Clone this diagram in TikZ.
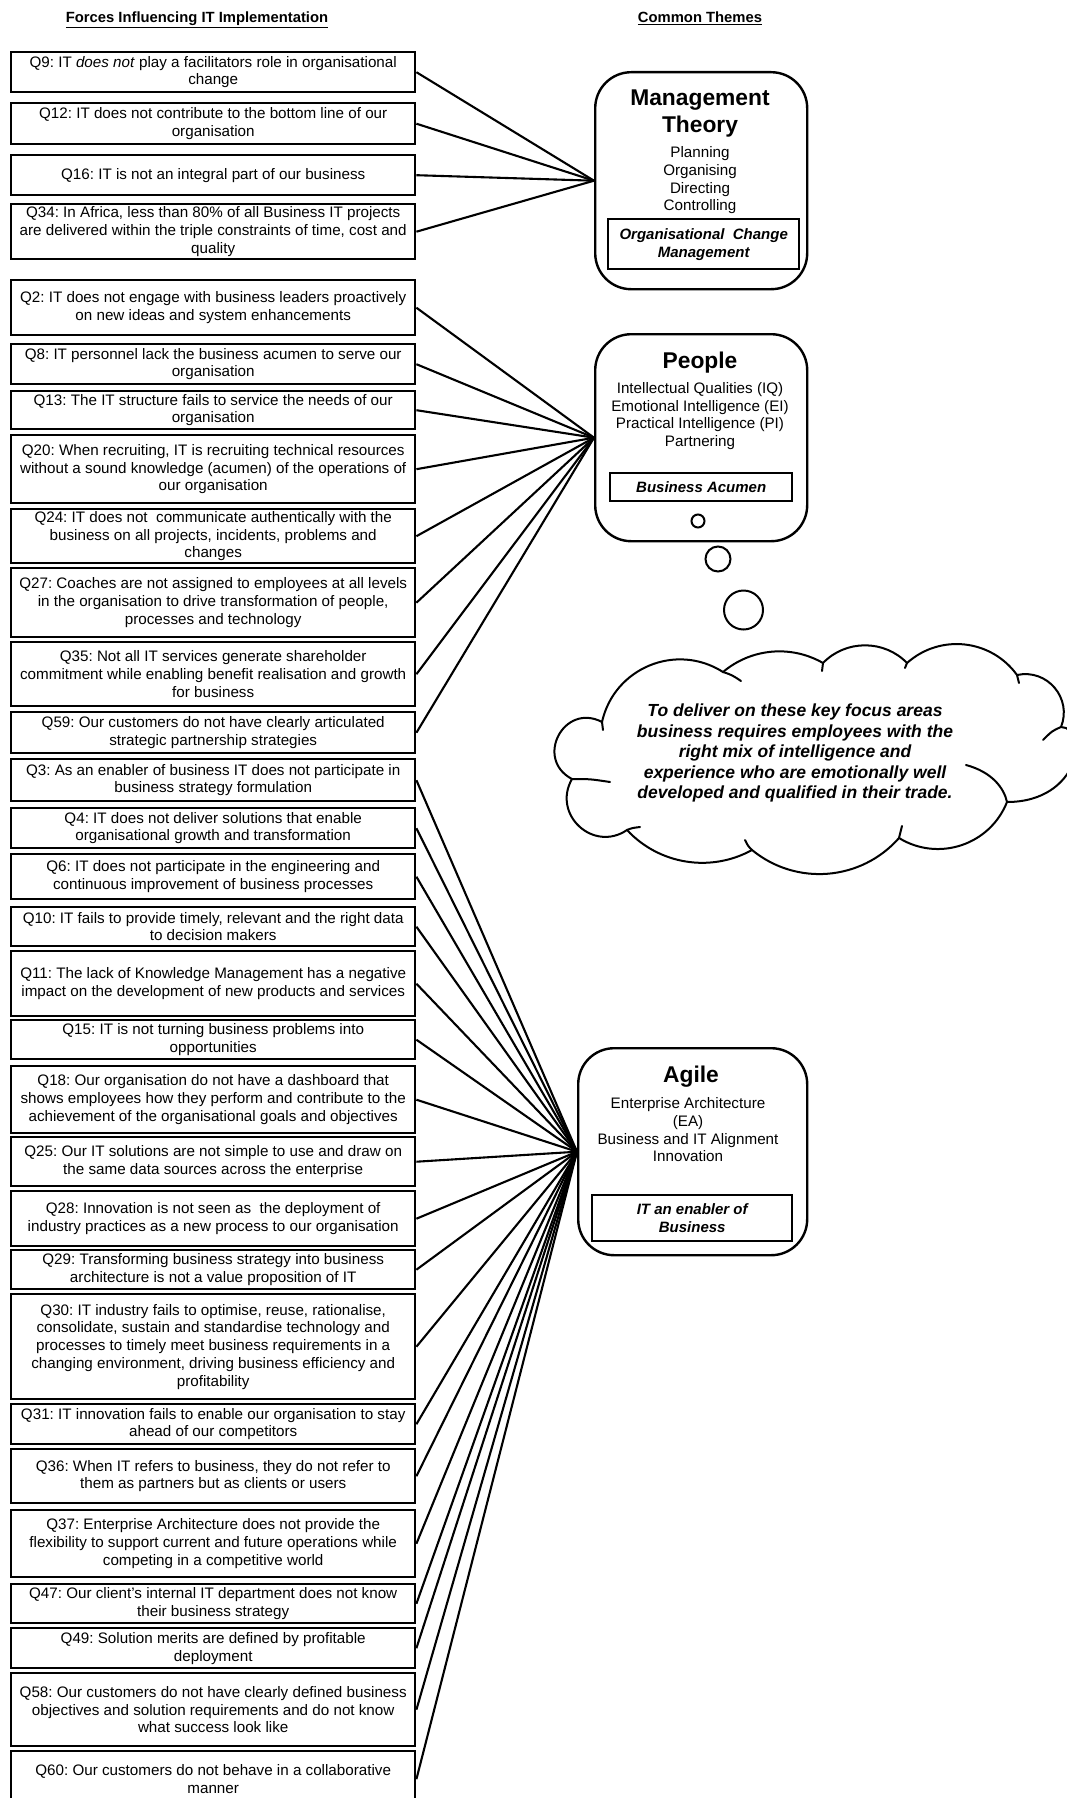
\documentclass[tikz,border=0pt]{standalone}
\usepackage{fontspec}
\setmainfont{Liberation Sans}
\usetikzlibrary{calc}
\frenchspacing
\newcommand{\qfont}{\fontsize{15.2}{17.7}\selectfont}
\newcommand{\ttlfont}{\fontsize{22.8}{27}\selectfont\bfseries}
\newcommand{\hdfont}{\fontsize{14.8}{17}\selectfont\bfseries}
\newcommand{\cldfont}{\fontsize{17.5}{20.5}\selectfont\bfseries\itshape}
\newcommand{\keyfont}{\fontsize{15}{18}\selectfont\bfseries\itshape}
\begin{document}
\begin{tikzpicture}[x=1pt,y=-1pt,
  qbox/.style={draw, line width=2.4pt, minimum width=404pt, anchor=north west, align=center, font=\qfont, inner sep=1pt},
  link/.style={line width=2.1pt},
  theme/.style={draw, line width=2.4pt, rounded corners=36pt, anchor=north west},
  keybox/.style={draw, line width=2.4pt, anchor=north west, align=center, font=\keyfont, inner sep=0pt},
  ttl/.style={font=\ttlfont, align=center},
  items/.style={font=\qfont, align=center},
  hdr/.style={font=\hdfont, anchor=base},
  bubble/.style={draw, circle, line width=2pt, inner sep=0pt},
  cloudline/.style={line width=2pt, line cap=round}
]
\useasboundingbox (0,0) rectangle (1067,1798);
\clip (0,0) rectangle (1067,1798);

% column headings
\node[hdr] (hleft) at (197,23) {\underline{Forces Influencing IT Implementation}};
\node[hdr] (hright) at (700,23) {\underline{Common Themes}};

% forces (left column)
\node[qbox, minimum height=40pt] (q9) at (10,51) {Q9: IT \textit{does not} play a facilitators role in organisational\\change};
\node[qbox, minimum height=41pt] (q12) at (10,102) {Q12: IT does not contribute to the bottom line of our\\organisation};
\node[qbox, minimum height=40pt] (q16) at (10,154) {Q16: IT is not an integral part of our business};
\node[qbox, minimum height=55pt] (q34) at (10,203) {Q34: In Africa, less than 80\% of all Business IT projects\\are delivered within the triple constraints of time, cost and\\quality};
\node[qbox, minimum height=55pt] (q2) at (10,279) {Q2: IT does not engage with business leaders proactively\\on new ideas and system enhancements};
\node[qbox, minimum height=40pt] (q8) at (10,343) {Q8: IT personnel lack the business acumen to serve our\\organisation};
\node[qbox, minimum height=38pt] (q13) at (10,390) {Q13: The IT structure fails to service the needs of our\\organisation};
\node[qbox, minimum height=68pt] (q20) at (10,434) {Q20: When recruiting, IT is recruiting technical resources\\without a sound knowledge (acumen) of the operations of\\our organisation};
\node[qbox, minimum height=54pt] (q24) at (10,508) {Q24: IT does not\ \ communicate authentically with the\\business on all projects, incidents, problems and\\changes};
\node[qbox, minimum height=69pt] (q27) at (10,567) {Q27: Coaches are not assigned to employees at all levels\\in the organisation to drive transformation of people,\\processes and technology};
\node[qbox, minimum height=64pt] (q35) at (10,641) {Q35: Not all IT services generate shareholder\\commitment while enabling benefit realisation and growth\\for business};
\node[qbox, minimum height=41pt] (q59) at (10,711) {Q59: Our customers do not have clearly articulated\\strategic partnership strategies};
\node[qbox, minimum height=42pt] (q3) at (10,758) {Q3: As an enabler of business IT does not participate in\\business strategy formulation};
\node[qbox, minimum height=40pt] (q4) at (10,807) {Q4: IT does not deliver solutions that enable\\organisational growth and transformation};
\node[qbox, minimum height=45pt] (q6) at (10,853) {Q6: IT does not participate in the engineering and\\continuous improvement of business processes};
\node[qbox, minimum height=39pt] (q10) at (10,906) {Q10: IT fails to provide timely, relevant and the right data\\to decision makers};
\node[qbox, minimum height=65pt] (q11) at (10,950) {Q11: The lack of Knowledge Management has a negative\\impact on the development of new products and services};
\node[qbox, minimum height=39pt] (q15) at (10,1019) {Q15: IT is not turning business problems into\\opportunities};
\node[qbox, minimum height=67pt] (q18) at (10,1065) {Q18: Our organisation do not have a dashboard that\\shows employees how they perform and contribute to the\\achievement of the organisational goals and objectives};
\node[qbox, minimum height=49pt] (q25) at (10,1136) {Q25: Our IT solutions are not simple to use and draw on\\the same data sources across the enterprise};
\node[qbox, minimum height=55pt] (q28) at (10,1190) {Q28: Innovation is not seen as\ \ the deployment of\\industry practices as a new process to our organisation};
\node[qbox, minimum height=39pt] (q29) at (10,1249) {Q29: Transforming business strategy into business\\architecture is not a value proposition of IT};
\node[qbox, minimum height=105pt] (q30) at (10,1293) {Q30: IT industry fails to optimise, reuse, rationalise,\\consolidate, sustain and standardise technology and\\processes to timely meet business requirements in a\\changing environment, driving business efficiency and\\profitability};
\node[qbox, minimum height=40pt] (q31) at (10,1403) {Q31: IT innovation fails to enable our organisation to stay\\ahead of our competitors};
\node[qbox, minimum height=54pt] (q36) at (10,1448) {Q36: When IT refers to business, they do not refer to\\them as partners but as clients or users};
\node[qbox, minimum height=67pt] (q37) at (10,1509) {Q37: Enterprise Architecture does not provide the\\flexibility to support current and future operations while\\competing in a competitive world};
\node[qbox, minimum height=39pt] (q47) at (10,1583) {Q47: Our client’s internal IT department does not know\\their business strategy};
\node[qbox, minimum height=40pt] (q49) at (10,1627) {Q49: Solution merits are defined by profitable\\deployment};
\node[qbox, minimum height=73pt] (q58) at (10,1672) {Q58: Our customers do not have clearly defined business\\objectives and solution requirements and do not know\\what success look like};
\node[qbox, minimum height=56pt] (q60) at (10,1750) {Q60: Our customers do not behave in a collaborative\\manner};

% common themes (right column)
\node[theme, minimum width=212pt, minimum height=217pt] (mt) at (594,71) {};
\node[ttl] (mttl) at (700,113.5) {Management\\Theory};
\node[items] (mitems) at (700,180.5) {Planning\\Organising\\Directing\\Controlling};
\node[keybox, minimum width=191pt, minimum height=50pt] (mkey) at (607,218) {Organisational\ \ Change\\Management};

\node[theme, minimum width=212pt, minimum height=207pt] (ppl) at (594,333) {};
\node[ttl] (pttl) at (700,363) {People};
\node[items] (pitems) at (700,416) {Intellectual Qualities (IQ)\\Emotional Intelligence (EI)\\Practical Intelligence (PI)\\Partnering};
\node[keybox, minimum width=182pt, minimum height=28pt] (pkey) at (609,472) {Business Acumen};

\node[theme, minimum width=229pt, minimum height=207pt] (agl) at (577,1047) {};
\node[ttl] (attl) at (691,1077) {Agile};
\node[items] (aitems) at (688,1130) {Enterprise Architecture\\(EA)\\Business and IT Alignment\\Innovation};
\node[keybox, minimum width=200pt, minimum height=46pt] (akey) at (591,1194) {IT an enabler of\\Business};

% connectors
\foreach \q in {q9,q12,q16,q34}
  \draw[link] (\q.east) -- (mt.west);
\foreach \q in {q2,q8,q13,q20,q24,q27,q35,q59}
  \draw[link] (\q.east) -- (ppl.west);
\foreach \q in {q3,q4,q6,q10,q11,q15,q18,q25,q28,q29,q30,q31,q36,q37,q47,q49,q58,q60}
  \draw[link] (\q.east) -- (agl.west);

% thought bubbles
\node[bubble, minimum size=13pt] (b1) at (698,521) {};
\node[bubble, minimum size=25pt] (b2) at (718,559) {};
\node[bubble, minimum size=39pt] (b3) at (743.5,610) {};

% cloud outline
\coordinate (j1) at (602,722);
\coordinate (j2) at (723,672);
\coordinate (j3) at (823,663);
\coordinate (j4) at (907,663);
\coordinate (j5) at (1017,675);
\coordinate (j6) at (1061,727);
\coordinate (j7) at (1007,802);
\coordinate (j8) at (899,838);
\coordinate (j9) at (752,850);
\coordinate (j10) at (627,830);
\coordinate (j11) at (572,779);
\draw[cloudline] (j1)
 .. controls ($(j1)!0.424!55:(j2)$) and ($(j2)!0.424!-55:(j1)$) .. (j2)
 .. controls ($(j2)!0.367!35:(j3)$) and ($(j3)!0.367!-35:(j2)$) .. (j3)
 .. controls ($(j3)!0.39!46:(j4)$) and ($(j4)!0.39!-46:(j3)$) .. (j4)
 .. controls ($(j4)!0.40!48:(j5)$) and ($(j5)!0.40!-48:(j4)$) .. (j5)
 .. controls ($(j5)!0.454!62:(j6)$) and ($(j6)!0.454!-62:(j5)$) .. (j6)
 .. controls (1090,728) and (1080,802) .. (j7)
 .. controls ($(j7)!0.406!50:(j8)$) and ($(j8)!0.406!-50:(j7)$) .. (j8)
 .. controls ($(j8)!0.388!44:(j9)$) and ($(j9)!0.388!-44:(j8)$) .. (j9)
 .. controls ($(j9)!0.373!38:(j10)$) and ($(j10)!0.373!-38:(j9)$) .. (j10)
 .. controls ($(j10)!0.544!77:(j11)$) and ($(j11)!0.544!-77:(j10)$) .. (j11)
 .. controls ($(j11)!0.667!90:(j1)$) and ($(j1)!0.667!-90:(j11)$) .. (j1);
% inner strokes of the cloud
\draw[cloudline] (j2) .. controls (732,675) .. (741,681);
\draw[cloudline] (j6) .. controls (1052,731) .. (1043,740);
\draw[cloudline] (966,765) .. controls (992,772) and (1004,788) .. (j7);
\draw[cloudline] (j10) .. controls (632,828) .. (640,827);
\draw[cloudline] (j11) .. controls (590,779) .. (610,782);
\draw[cloudline] (j8) .. controls (900,832) .. (902,826);
\draw[cloudline] (j9) .. controls (748,846) .. (745,840);
\draw[cloudline] (j1) -- (603,730);
\draw[cloudline] (j3) -- (822,671);
\draw[cloudline] (j4) -- (905,668);
\draw[cloudline] (j5) -- (1019,683);

\node[font=\cldfont, align=center] (cldtxt) at (795,753) {To deliver on these key focus areas\\business requires employees with the\\right mix of intelligence and\\experience who are emotionally well\\developed and qualified in their trade.};
\end{tikzpicture}
\end{document}
